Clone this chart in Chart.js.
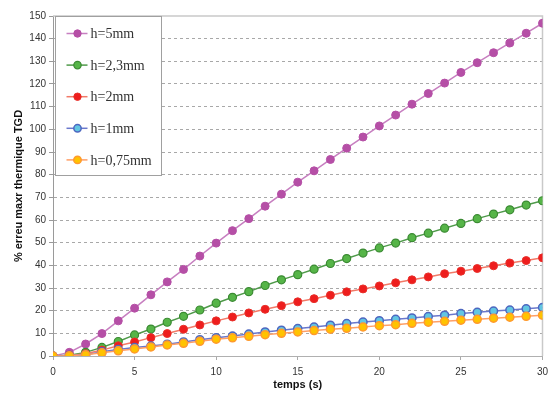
<!DOCTYPE html>
<html>
<head>
<meta charset="utf-8">
<script src="https://cdn.jsdelivr.net/npm/chart.js@4/dist/chart.umd.min.js"></script>
<style>
html,body{margin:0;padding:0;background:#fff;}
#c{display:block;}
</style>
</head>
<body>
<canvas id="c" width="548" height="394"></canvas>
<script>
const times = [0,1,2,3,4,5,6,7,8,9,10,11,12,13,14,15,16,17,18,19,20,21,22,23,24,25,26,27,28,29,30];
const seriesNames = ["h=5mm", "h=2,3mm", "h=2mm", "h=1mm", "h=0,75mm"];
const h5   = [0, 1.6, 5.3, 9.9, 15.5, 21.1, 27.0, 32.7, 38.2, 44.1, 49.8, 55.3, 60.6, 66.1, 71.4, 76.7, 81.7, 86.7, 91.7, 96.6, 101.5, 106.3, 111.1, 115.8, 120.4, 125.1, 129.4, 133.8, 138.1, 142.4, 146.8];
const h23  = [0, 0.3, 1.6, 3.8, 6.4, 9.3, 11.9, 14.9, 17.5, 20.3, 23.3, 25.9, 28.4, 31.1, 33.6, 35.9, 38.3, 40.8, 43.0, 45.4, 47.7, 49.8, 52.2, 54.2, 56.4, 58.5, 60.6, 62.6, 64.5, 66.6, 68.5];
const h2   = [0, 0.2, 1.0, 2.6, 4.5, 6.2, 8.1, 9.9, 11.8, 13.7, 15.5, 17.2, 19.0, 20.6, 22.2, 23.9, 25.3, 26.8, 28.3, 29.6, 30.9, 32.3, 33.6, 34.9, 36.3, 37.4, 38.6, 39.8, 41.0, 42.1, 43.3];
const h1   = [0, 0.1, 0.5, 1.9, 2.9, 3.7, 4.4, 5.2, 6.2, 7.2, 8.1, 8.8, 9.7, 10.6, 11.4, 12.1, 12.8, 13.6, 14.3, 15.0, 15.6, 16.2, 16.8, 17.4, 18.0, 18.7, 19.3, 19.8, 20.3, 20.8, 21.4];
const h075 = [0, 0.1, 0.6, 1.4, 2.3, 3.1, 4.0, 4.9, 5.6, 6.5, 7.4, 8.0, 8.7, 9.4, 10.0, 10.6, 11.2, 11.8, 12.2, 12.8, 13.4, 13.8, 14.4, 14.9, 15.3, 15.8, 16.2, 16.7, 17.1, 17.5, 18.0];
const xTitle = "temps (s)";
const yTitle = "% erreu maxr thermique TGD";

const seriesValues = [h5, h23, h2, h1, h075];
const styles = [
  {line:'#c77fc0', fill:'#b54fa6', border:'#b54fa6', bw:1},
  {line:'#4f9a4a', fill:'#56b548', border:'#3b8a33', bw:1.2},
  {line:'#f27a68', fill:'#ee1d1d', border:'#e8302a', bw:1},
  {line:'#6a78cc', fill:'#62c6e2', border:'#4d67c0', bw:1.5},
  {line:'#ff9f66', fill:'#ffc300', border:'#ff9a2e', bw:1.5}
];

const datasets = seriesValues.map((vals, i) => ({
  label: seriesNames[i],
  data: times.map((t, j) => ({x: t, y: vals[j]})),
  borderColor: styles[i].line,
  backgroundColor: styles[i].fill,
  pointBackgroundColor: styles[i].fill,
  pointBorderColor: styles[i].border,
  pointBorderWidth: styles[i].bw,
  pointRadius: 4,
  borderWidth: 1.5,
  tension: 0,
  order: seriesValues.length - i
}));

const framePlugin = {
  id: 'frame',
  beforeDatasetsDraw(chart) {
    const {ctx, chartArea: a} = chart;
    ctx.save();
    ctx.strokeStyle = '#c9c9c9';
    ctx.lineWidth = 1.5;
    ctx.setLineDash([]);
    ctx.beginPath();
    ctx.moveTo(a.left, a.top);
    ctx.lineTo(a.right, a.top);
    ctx.lineTo(a.right, a.bottom);
    ctx.stroke();
    ctx.restore();
  },
  afterDatasetsDraw(chart) {
    const {ctx, chartArea: a} = chart;
    const bx = a.left + 2.5, by = a.top + 0.5, bw = 106, bh = 159;
    ctx.save();
    ctx.setLineDash([]);
    ctx.fillStyle = '#ffffff';
    ctx.fillRect(bx, by, bw, bh);
    ctx.strokeStyle = '#a0a0a0';
    ctx.lineWidth = 1;
    ctx.strokeRect(bx, by, bw, bh);
    ctx.font = '14px "Liberation Serif", "Times New Roman", serif';
    ctx.textBaseline = 'middle';
    ctx.textAlign = 'left';
    chart.data.datasets.forEach((ds, i) => {
      const cy = by + 17 + i * 31.6;
      ctx.strokeStyle = ds.borderColor;
      ctx.lineWidth = 1.5;
      ctx.beginPath();
      ctx.moveTo(bx + 11, cy);
      ctx.lineTo(bx + 32, cy);
      ctx.stroke();
      ctx.beginPath();
      ctx.arc(bx + 22, cy, 3.7, 0, Math.PI * 2);
      ctx.fillStyle = ds.pointBackgroundColor;
      ctx.fill();
      ctx.lineWidth = ds.pointBorderWidth;
      ctx.strokeStyle = ds.pointBorderColor;
      ctx.stroke();
      ctx.fillStyle = '#333';
      ctx.fillText(ds.label, bx + 35, cy + 1);
    });
    ctx.restore();
  }
};

new Chart(document.getElementById('c'), {
  type: 'line',
  data: { datasets },
  options: {
    responsive: false,
    animation: false,
    devicePixelRatio: 1,
    layout: { padding: { top: 16, right: 2, left: 0, bottom: 0 } },
    plugins: { legend: { display: false }, tooltip: { enabled: false } },
    scales: {
      x: {
        type: 'linear',
        min: 0, max: 30,
        ticks: { stepSize: 5, color: '#333', padding: 6, maxRotation: 0,
                 font: { family: '"Liberation Sans", Arial, sans-serif', size: 10 } },
        grid: { drawOnChartArea: false, tickLength: 4, tickColor: '#aaa', tickWidth: 1 },
        border: { color: '#b0b0b0', width: 1 },
        title: { display: true, text: xTitle, color: '#111',
                 font: { family: '"Liberation Sans", Arial, sans-serif', size: 11, weight: 'bold' },
                 padding: { top: 0, bottom: 2 } },
        afterFit(scale) { scale.height = 38; scale.paddingLeft = 0; scale.paddingRight = 0; }
      },
      y: {
        min: 0, max: 150,
        ticks: { stepSize: 10, color: '#333', padding: 3,
                 font: { family: '"Liberation Sans", Arial, sans-serif', size: 10 } },
        grid: {
          color: (c) => (c.tick && (c.tick.value === 0 || c.tick.value === 150)) ? 'rgba(0,0,0,0)' : '#a8a8a8',
          tickBorderDash: [],
          tickLength: 4, tickColor: '#999', tickWidth: 1, lineWidth: 1
        },
        border: { color: '#9a9a9a', width: 1, dash: [3, 3] },
        title: { display: true, text: yTitle, color: '#111',
                 font: { family: '"Liberation Sans", Arial, sans-serif', size: 11, weight: 'bold' },
                 padding: { top: 12, bottom: 0 } },
        afterFit(scale) { scale.width = 53; scale.paddingTop = 0; scale.paddingBottom = 0; }
      }
    }
  },
  plugins: [framePlugin]
});
</script>
</body>
</html>
